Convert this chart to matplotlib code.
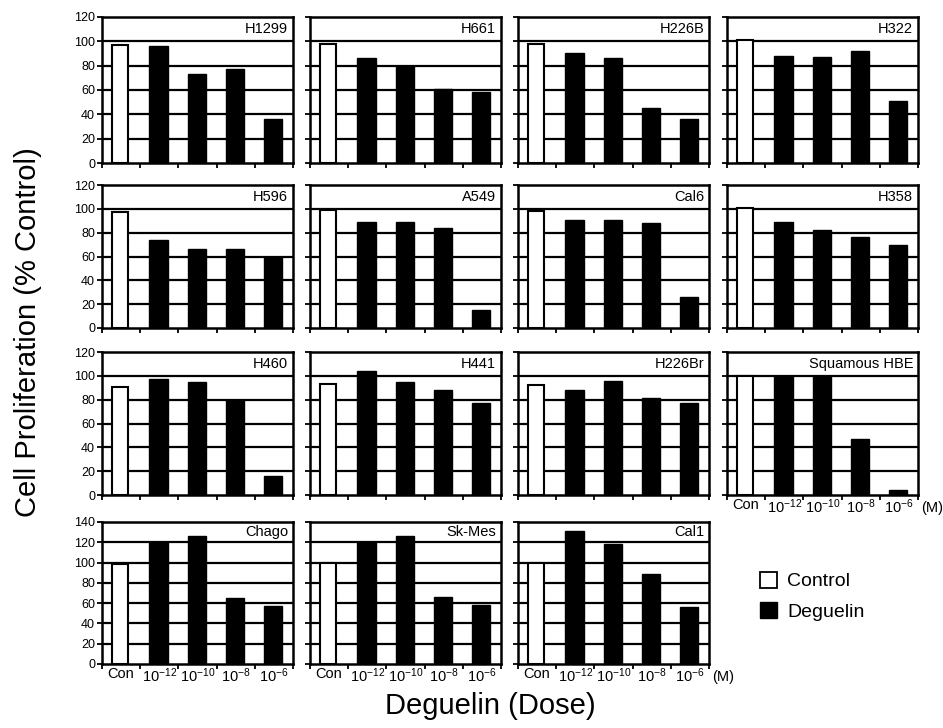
import numpy as np
import matplotlib
matplotlib.use("Agg")
import matplotlib.pyplot as plt
from matplotlib.patches import Patch

plt.rcParams['font.family'] = ['Liberation Sans', 'DejaVu Sans']
plt.rcParams['mathtext.fontset'] = 'custom'
plt.rcParams['mathtext.rm'] = 'Liberation Sans'
plt.rcParams['mathtext.it'] = 'Liberation Sans:italic'

# doses (x categories)
doses = ["Con", "10$^{\\mathrm{-12}}$", "10$^{\\mathrm{-10}}$", "10$^{\\mathrm{-8}}$", "10$^{\\mathrm{-6}}$"]

# cell lines, row by row
cell_lines = [
    ["H1299", "H661", "H226B", "H322"],
    ["H596", "A549", "Cal6", "H358"],
    ["H460", "H441", "H226Br", "Squamous HBE"],
    ["Chago", "Sk-Mes", "Cal1"],
]

# % control values: Con, 1e-12, 1e-10, 1e-8, 1e-6
H1299 = [97, 96, 73, 77, 36]
H661 = [98, 86, 80, 61, 58]
H226B = [98, 90, 86, 45, 36]
H322 = [101, 88, 87, 92, 51]
H596 = [97, 74, 66, 66, 60]
A549 = [99, 89, 89, 84, 15]
Cal6 = [98, 91, 91, 88, 26]
H358 = [101, 89, 82, 76, 70]
H460 = [91, 97, 95, 80, 16]
H441 = [93, 104, 95, 88, 77]
H226Br = [92, 88, 96, 81, 77]
SquamousHBE = [100, 100, 100, 47, 4]
Chago = [99, 120, 126, 65, 57]
SkMes = [100, 120, 126, 66, 58]
Cal1 = [100, 131, 118, 89, 56]

values = {
    "H1299": H1299, "H661": H661, "H226B": H226B, "H322": H322,
    "H596": H596, "A549": A549, "Cal6": Cal6, "H358": H358,
    "H460": H460, "H441": H441, "H226Br": H226Br, "Squamous HBE": SquamousHBE,
    "Chago": Chago, "Sk-Mes": SkMes, "Cal1": Cal1,
}

W, H = 943, 728
fig = plt.figure(figsize=(W / 100, H / 100), dpi=100)

col_x = [102, 310, 518, 727]
ax_w = 191
row_y = [(17, 163), (185, 328), (352, 495), (522, 664)]

x = np.arange(5)
for r, row in enumerate(cell_lines):
    top, bot = row_y[r]
    ymax = 140 if r == 3 else 120
    for c, name in enumerate(row):
        ax = fig.add_axes([col_x[c] / W, 1 - bot / H, ax_w / W, (bot - top) / H])
        vals = values[name]
        ax.set_xlim(-0.5, 4.5)
        ax.set_ylim(0, ymax)
        yt = np.arange(0, ymax + 1, 20)
        for g in yt[1:-1]:
            ax.axhline(g, color="black", lw=1.6, zorder=1)
        ax.bar(x[:1] - 0.04, vals[:1], width=0.42, color="white", edgecolor="black",
               linewidth=1.5, zorder=2)
        ax.bar(x[1:] - 0.02, vals[1:], width=0.48, color="black", edgecolor="black",
               linewidth=1.0, zorder=2)
        ax.text(0.975, (ymax - 10) / ymax, name, transform=ax.transAxes,
                ha="right", va="center", fontsize=10.5)
        ax.set_yticks(yt)
        ax.set_xticks(np.arange(-0.5, 4.6, 1.0))
        ax.set_xticklabels([])
        ax.tick_params(axis="both", direction="out", length=3.5, width=1.3,
                       labelsize=9, pad=1.5)
        if c != 0:
            ax.set_yticklabels([])
        labelled = (r == 3) or (name == "Squamous HBE")
        if labelled:
            ax.set_xticks(x, minor=True)
            ax.set_xticklabels(doses, minor=True, fontsize=10.5)
            ax.tick_params(axis="x", which="minor", length=0, pad=2)
            if name in ("Squamous HBE", "Cal1"):
                ax.text(1.015, -0.04, "(M)", transform=ax.transAxes,
                        ha="left", va="top", fontsize=10.5)
        for s in ax.spines.values():
            s.set_linewidth(1.8)

fig.text(28 / W, 1 - 332 / H, "Cell Proliferation (% Control)", rotation=90,
         ha="center", va="center", fontsize=21)
fig.text(490 / W, 1 - 706 / H, "Deguelin (Dose)", ha="center", va="center",
         fontsize=21)

handles = [Patch(facecolor="white", edgecolor="black", linewidth=1.3, label="Control"),
           Patch(facecolor="black", edgecolor="black", label="Deguelin")]
fig.legend(handles=handles, loc="upper left", bbox_to_anchor=(750 / W, 1 - 562 / H),
           frameon=False, fontsize=14, handlelength=0.9, handleheight=0.9,
           handletextpad=0.5, labelspacing=0.6, borderpad=0)

fig.savefig("out.png", dpi=100)
